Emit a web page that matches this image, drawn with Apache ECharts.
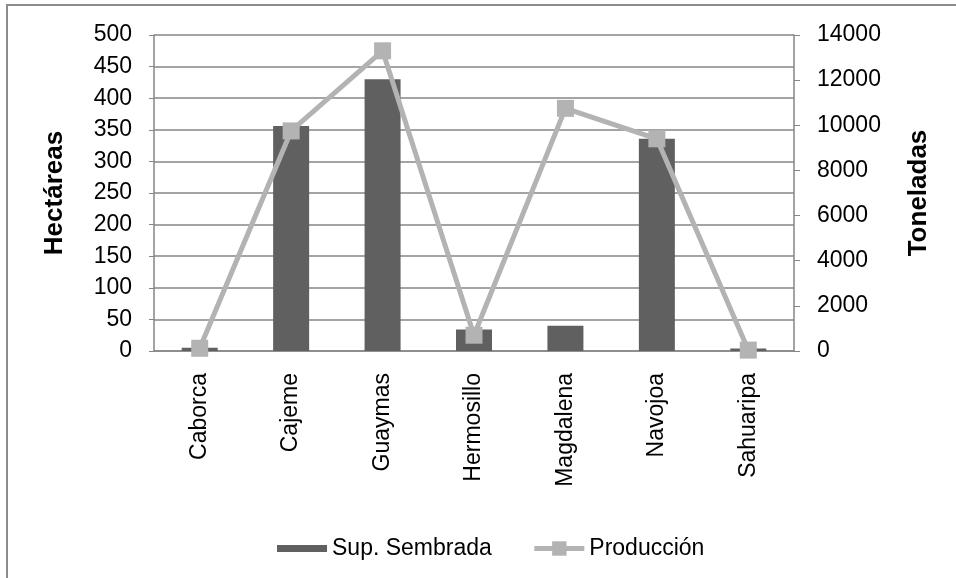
<!DOCTYPE html>
<html>
<head>
<meta charset="utf-8">
<script src="https://cdn.jsdelivr.net/npm/echarts@6/dist/echarts.min.js"></script>
<style>
  html, body { margin: 0; padding: 0; background: #fff; }
  #chart { width: 956px; height: 578px; }
</style>
</head>
<body>
<div id="chart"></div>
<script>
// municipios
var categories = ['Caborca', 'Cajeme', 'Guaymas', 'Hermosillo', 'Magdalena', 'Navojoa', 'Sahuaripa'];
// hectareas sembradas
var superficie = [5, 356, 430, 34, 40, 336, 4];
// toneladas producidas
var produccion = [120, 9750, 13300, 700, 10750, 9400, 40];

var font = "'Liberation Sans', Arial, sans-serif";
var gridGray = '#868686';

var chart = echarts.init(document.getElementById('chart'));

chart.setOption({
    animation: false,
    textStyle: { fontFamily: font, color: '#000' },
    graphic: [{
        type: 'rect',
        shape: { x: 7, y: 5, width: 1000, height: 1000 },
        style: { fill: 'none', stroke: '#8c8c8c', lineWidth: 2 }
    }],
    grid: { left: 154, right: 162, top: 35, bottom: 227 },
    legend: {
        left: 272,
        top: 532,
        itemWidth: 50,
        itemHeight: 18,
        itemGap: 40,
        textStyle: { fontFamily: font, fontSize: 23, color: '#000' },
        data: [
            { name: 'Sup. Sembrada', icon: 'path://M0,0H50V7H0Z' },
            { name: 'Producción', lineStyle: { width: 5, color: '#b3b3b3' } }
        ]
    },
    xAxis: {
        type: 'category',
        data: categories,
        axisLine: { lineStyle: { color: gridGray, width: 1.5 } },
        axisTick: { show: false },
        axisLabel: {
            rotate: 90,
            margin: 22,
            fontSize: 23,
            fontFamily: font,
            color: '#000'
        }
    },
    yAxis: [{
        type: 'value',
        min: 0,
        max: 500,
        interval: 50,
        name: 'Hectáreas',
        nameLocation: 'middle',
        nameRotate: 90,
        nameGap: 86,
        nameTextStyle: { fontFamily: font, fontSize: 26, fontWeight: 'bold', color: '#000' },
        axisLine: { show: true, lineStyle: { color: gridGray, width: 1.5 } },
        axisTick: { show: true, length: 5, lineStyle: { color: gridGray } },
        axisLabel: { margin: 22, fontSize: 23, fontFamily: font, color: '#000' },
        splitLine: { lineStyle: { color: gridGray, width: 1.5 } }
    }, {
        type: 'value',
        min: 0,
        max: 14000,
        interval: 2000,
        position: 'right',
        name: 'Toneladas',
        nameLocation: 'middle',
        nameRotate: 90,
        nameGap: 112,
        nameTextStyle: { fontFamily: font, fontSize: 26, fontWeight: 'bold', color: '#000' },
        axisLine: { show: true, lineStyle: { color: gridGray, width: 1.5 } },
        axisTick: { show: true, length: 6, lineStyle: { color: gridGray } },
        axisLabel: {
            margin: 23, fontSize: 23, fontFamily: font, color: '#000',
            formatter: function (v) { return String(v); }
        },
        splitLine: { show: false }
    }],
    series: [{
        name: 'Sup. Sembrada',
        type: 'bar',
        yAxisIndex: 0,
        barWidth: 36,
        itemStyle: { color: '#606060' },
        data: superficie
    }, {
        name: 'Producción',
        type: 'line',
        yAxisIndex: 1,
        symbol: 'rect',
        symbolSize: 17,
        itemStyle: { color: '#b3b3b3' },
        lineStyle: { color: '#b3b3b3', width: 5 },
        data: produccion
    }]
});
</script>
</body>
</html>
